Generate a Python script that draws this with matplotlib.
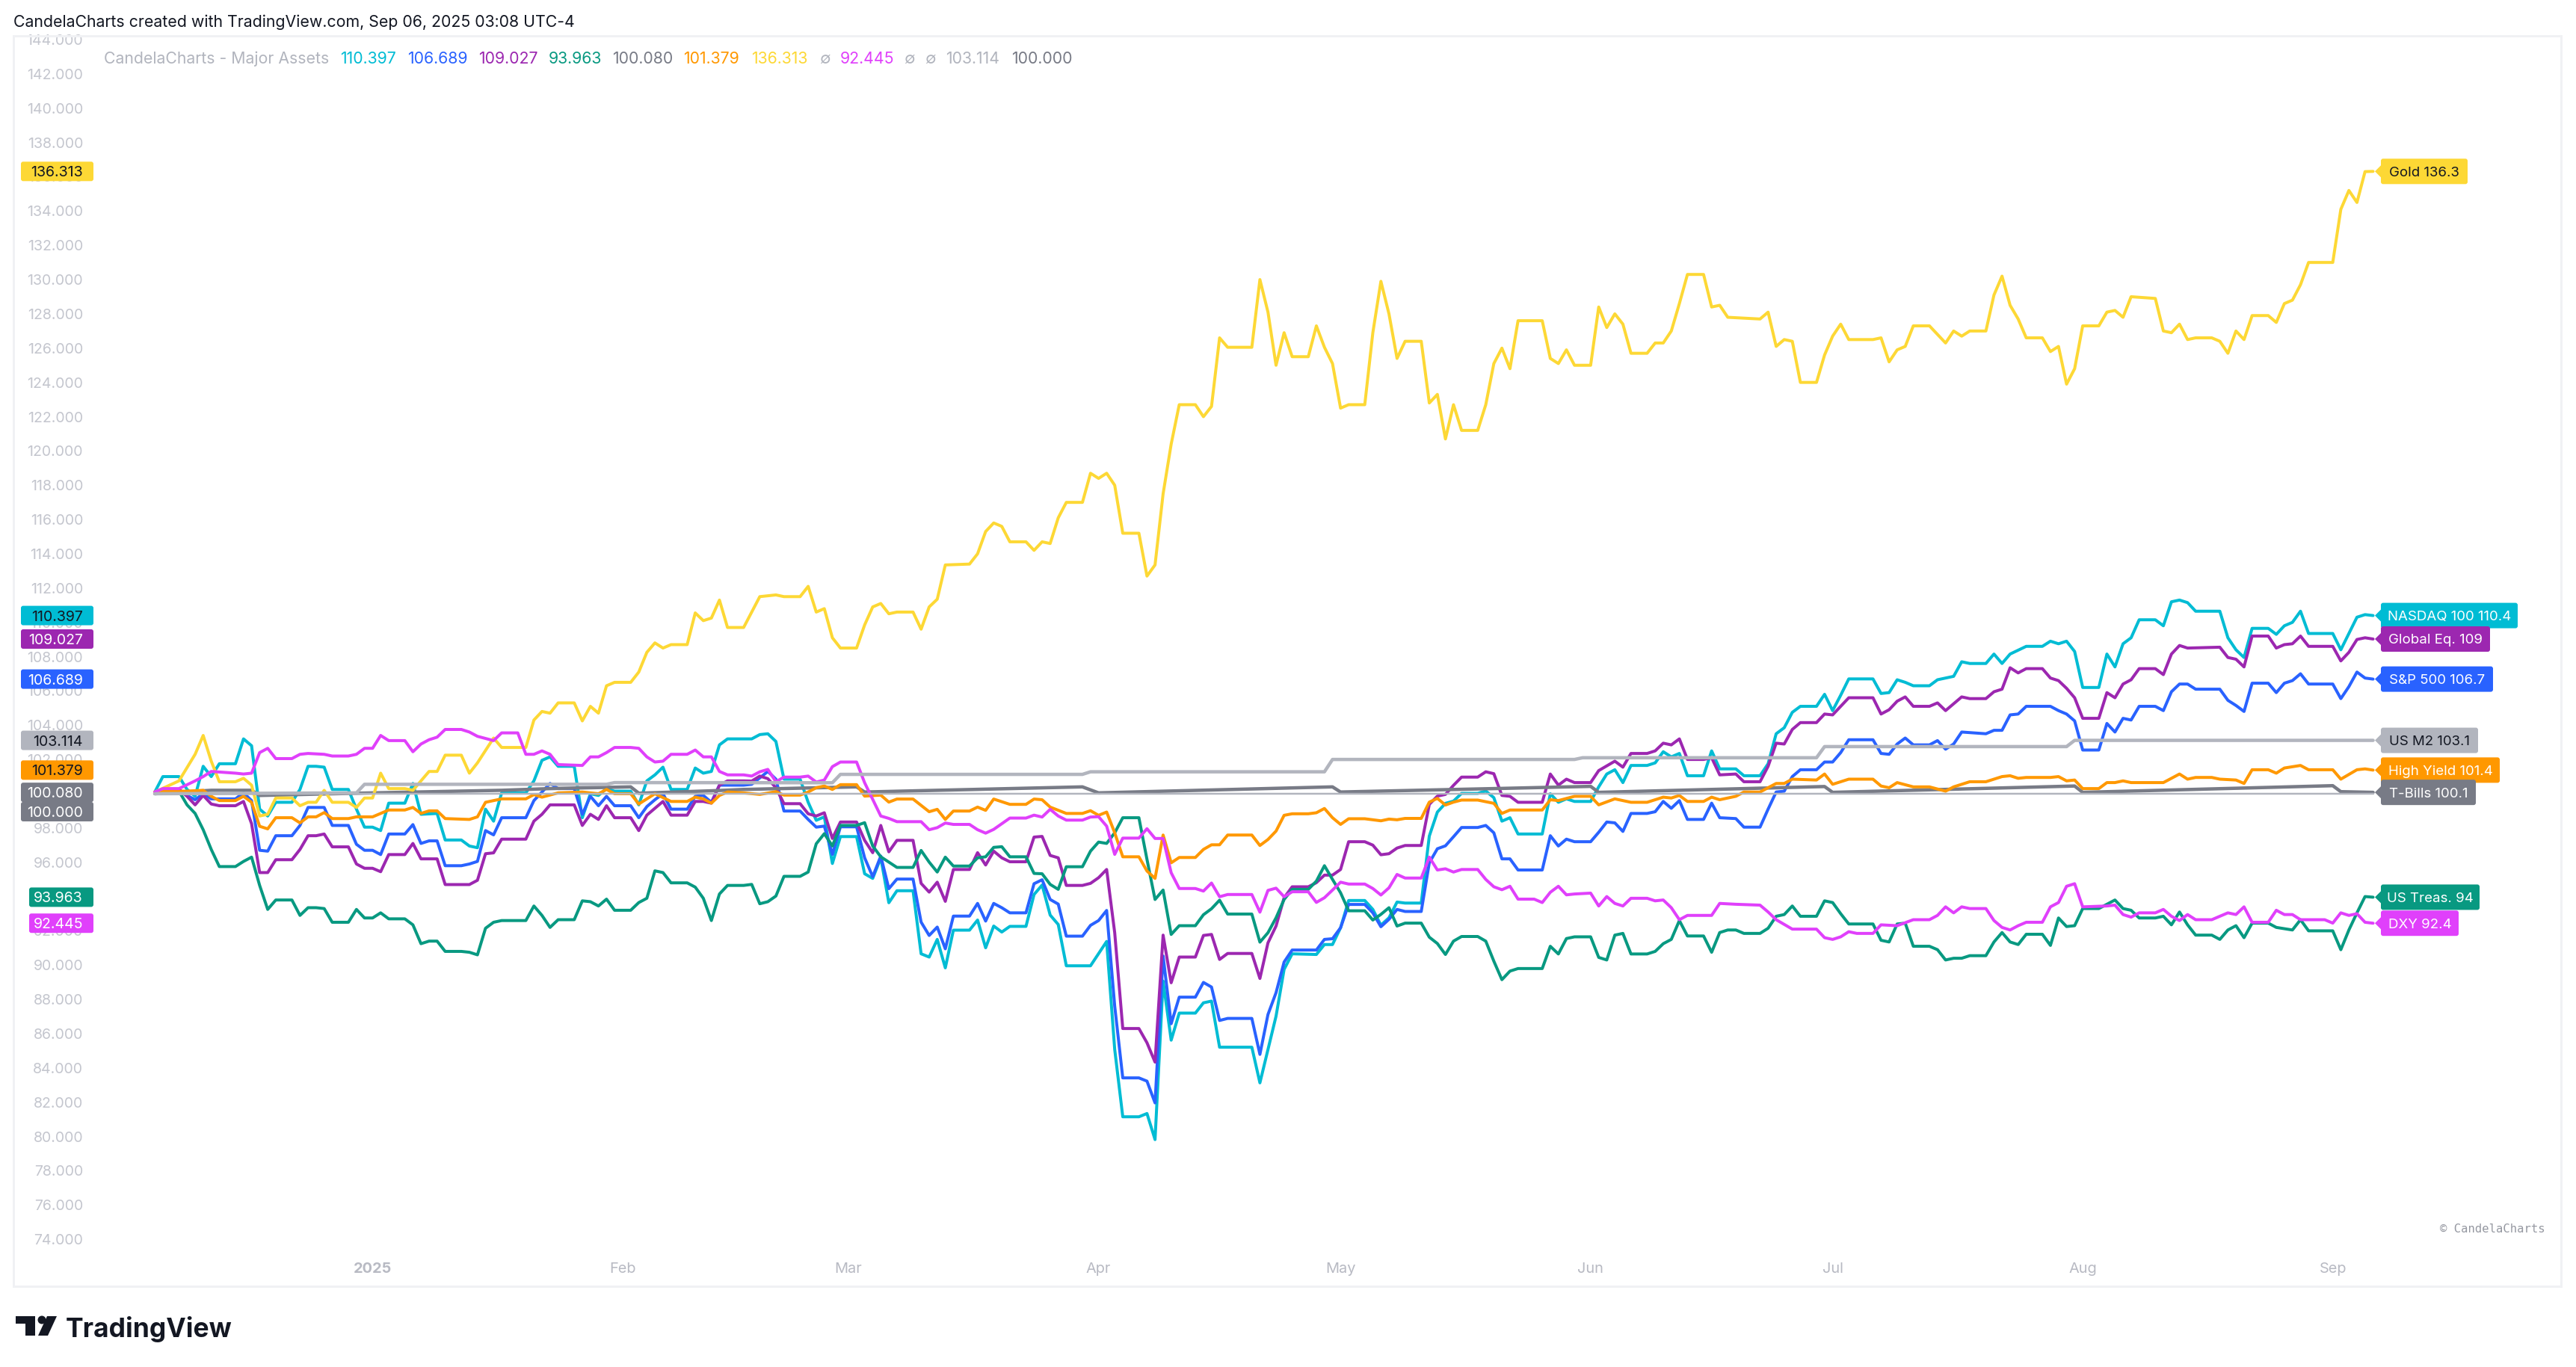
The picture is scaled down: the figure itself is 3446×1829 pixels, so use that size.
import matplotlib
matplotlib.use("Agg")
import matplotlib.pyplot as plt
from matplotlib.patches import FancyBboxPatch, Polygon, Circle

plt.rcParams['font.family'] = ['Inter', 'DejaVu Sans']

W, H = 3446, 1829

# (days since 2024-12-05, normalised value)
nasdaq = [(0,100.1),(1,101),(3,101),(4,100.25),(5,99.85),(6,101.6),(7,101),(8,101.75),(10,101.75),(11,103.2),(12,102.8),(13,99.1),(14,98.7),(15,99.5),(17,99.5),(18,100.25),(19,101.6),(20,101.6),(21,101.55),(22,100.25),(24,100.25),(25,99.1),(26,98.05),(27,98.05),(28,97.85),(29,99.45),(31,99.45),(32,100.6),(33,98.8),(35,98.85),(36,97.3),(38,97.3),(39,96.95),(40,96.85),(41,99.1),(42,98.4),(43,100.05),(46,100.05),(47,100.75),(48,101.95),(49,102.15),(50,101.6),(52,101.6),(53,98.6),(54,100),(55,99.9),(56,100.3),(57,100.15),(59,100.15),(60,99.35),(61,100.75),(62,101.1),(63,101.55),(64,100.25),(66,100.25),(67,101.5),(68,101.2),(69,101.3),(70,102.85),(71,103.2),(73,103.2),
 (74,103.2),(75,103.45),(76,103.5),(77,103.05),(78,100.85),(80,100.85),(81,99.5),(82,98.45),(83,98.65),(84,95.93),(85,97.5),(87,97.5),(88,95.33),(89,95.06),(90,96.26),(91,93.64),(92,94.34),(94,94.34),(95,90.66),(96,90.47),(97,91.5),(98,89.84),(99,92.04),(101,92.04),(102,92.63),(103,91.01),(104,92.28),(105,91.93),(106,92.26),(108,92.26),(109,94.12),(110,94.67),(111,92.92),(112,92.37),(113,89.96),(116,89.96),(118,91.38),(119,85.08),(120,81.15),(122,81.15),(123,81.34),(124,79.82),(125,89.07),(126,85.62),(127,87.2),(129,87.2),(130,87.8),(131,87.9),(132,85.21),(136,85.21),(137,83.13),(138,85.08),(139,87.02),(140,89.75),(141,90.66),(144,90.62),(145,91.2),(146,91.2),(147,92.18),(148,93.77),(150,93.77),(151,93.25),(152,92.33),(153,92.76),(154,93.68),(155,93.62),(157,93.62),(158,97.53),(159,98.93),(160,99.44),(161,99.57),(162,100.02),(164,100.02),(165,100.16),(166,99.77),
 (167,98.4),(168,98.6),(169,97.65),(172,97.65),(173,100),(174,99.5),(175,99.7),(176,99.55),(178,99.55),(179,100.4),(180,101.15),(181,101.4),(182,100.65),(183,101.65),(185,101.65),(186,101.8),(187,102.45),(188,102.15),(189,102.35),(190,101.05),(192,101.05),(193,102.5),(194,101.45),(196,101.45),(197,101.05),(199,101.05),(200,101.75),(201,103.5),(202,103.85),(203,104.75),(204,105.1),(206,105.1),(207,105.8),(208,104.85),(209,105.75),(210,106.7),(213,106.7),(214,105.85),(215,105.9),(216,106.65),(217,106.5),(218,106.3),(220,106.3),(221,106.65),(223,106.85),(224,107.7),(225,107.6),(227,107.6),(228,108.15),(229,107.6),(230,108.15),(232,108.6),(234,108.6),(235,108.9),(236,108.75),(237,108.9),(238,108.3),(239,106.2),(241,106.2),(242,108.15),(243,107.4),(244,108.75),(245,109.1),(246,110.15),(248,110.15),(249,109.8),(250,111.2),(251,111.3),(252,111.15),(253,110.65),(256,110.65),(257,109.1),(258,108.4),(259,107.95),(260,109.65),(262,109.65),(263,109.3),(264,109.8),(265,110),(266,110.65),(267,109.35),(270,109.35),(271,108.4),(272,109.35),(273,110.3),(274,110.45),(275,110.397)]

sp500 = [(0,100.1),(3,100.25),(4,99.9),(5,99.65),(6,100),(7,99.7),(10,99.7),(11,100.05),(12,99.6),(13,96.7),(14,96.65),(15,97.55),(17,97.55),(18,98.15),(19,99.2),(21,99.2),(22,98.15),(24,98.15),(25,97.05),(26,96.7),(27,96.7),(28,96.45),(29,97.65),(31,97.65),(32,98.2),(33,97.1),(34,97.25),(35,97.25),(36,95.8),(38,95.8),(39,95.9),(40,96.05),(41,97.85),(42,97.6),(43,98.6),(46,98.6),(47,99.6),(48,100.1),(49,100.6),(50,100.3),(52,100.3),(53,98.8),(54,99.85),(55,99.3),(56,99.85),(57,99.3),(59,99.3),(60,98.6),(61,99.25),(62,99.65),(63,100),(64,99.1),(66,99.1),(67,99.85),(68,99.9),(69,99.5),(70,100.5),(73,100.5),
 (74,100.55),(76,101.3),(77,100.85),(78,98.99),(80,98.99),(81,98.5),(82,98.05),(83,98.11),(84,96.46),(85,98.07),(87,98.07),(88,96.26),(89,95.16),(90,96.36),(91,94.46),(92,95.02),(94,95.02),(95,92.51),(96,91.73),(97,92.22),(98,90.95),(99,92.86),(101,92.86),(102,93.6),(103,92.57),(104,93.6),(105,93.35),(106,93.05),(108,93.05),(109,94.75),(110,94.98),(111,93.83),(112,93.56),(113,91.69),(115,91.69),(116,92.32),(117,92.6),(118,93.19),(119,87.61),(120,83.42),(122,83.42),(123,83.23),(124,81.96),(125,90.53),(126,86.58),(127,88.13),(129,88.13),(130,88.99),(131,88.72),(132,86.77),(133,86.89),(136,86.89),(137,84.79),(138,87.12),(139,88.39),(140,90.18),(141,90.88),(144,90.88),(145,91.5),(146,91.54),(147,92.18),(148,93.54),(150,93.54),(151,93.05),(152,92.24),(153,92.67),(154,93.25),(155,93.13),(157,93.13),(158,95.97),(159,96.79),(160,96.96),(161,97.49),(162,98.03),(164,98.03),(165,98.15),(166,97.72),
 (167,96.2),(168,96.2),(169,95.55),(172,95.55),(173,97.55),(174,96.95),(175,97.35),(176,97.2),(178,97.2),(179,97.75),(180,98.35),(181,98.3),(182,97.8),(183,98.85),(185,98.85),(186,98.95),(187,99.55),(188,99.15),(189,99.6),(190,98.5),(192,98.5),(193,99.45),(194,98.6),(196,98.55),(197,98.05),(199,98.05),(200,99.1),(201,100.1),(202,100.15),(203,101),(204,101.4),(206,101.4),(207,101.85),(208,101.85),(209,102.4),(210,103.15),(213,103.15),(214,102.35),(215,102.3),(216,102.9),(217,103.25),(218,102.85),(220,102.85),(221,103.1),(222,102.6),(223,102.9),(224,103.6),(227,103.5),(228,103.7),(229,103.7),(230,104.6),(231,104.65),(232,105.1),(235,105.1),(236,104.85),(237,104.65),(238,104.25),(239,102.55),(241,102.55),(242,104.1),(243,103.6),(244,104.4),(245,104.3),(246,105.1),(248,105.1),(249,104.85),(250,105.95),(251,106.4),(252,106.4),(253,106.1),(256,106.1),(257,105.45),(258,105.15),(259,104.8),(260,106.45),(262,106.45),(263,105.9),(264,106.45),(265,106.6),(266,107),(267,106.4),(270,106.4),(271,105.55),(272,106.25),(273,107.1),(274,106.75),(275,106.689)]

global_eq = [(0,100.1),(3,100.25),(4,99.85),(5,99.35),(6,99.9),(7,99.4),(8,99.3),(10,99.3),(11,99.55),(12,98.25),(13,95.4),(14,95.4),(15,96.15),(17,96.15),(18,96.75),(19,97.55),(20,97.55),(21,97.65),(22,96.9),(24,96.9),(25,95.9),(26,95.65),(27,95.65),(28,95.45),(29,96.45),(31,96.45),(32,97.1),(33,96.2),(35,96.2),(36,94.7),(39,94.7),(40,94.95),(41,96.5),(42,96.55),(43,97.35),(46,97.35),(47,98.4),(48,98.8),(49,99.35),(52,99.35),(53,98.15),(54,98.8),(55,98.5),(56,99.3),(57,98.6),(59,98.6),(60,97.85),(61,98.75),(62,99.15),(63,99.55),(64,98.75),(66,98.75),(67,99.55),(68,99.55),(69,99.45),(70,100.5),(71,100.75),(73,100.75),
 (74,100.74),(75,101.03),(76,100.88),(77,100.35),(78,99.42),(80,99.42),(81,98.83),(82,98.7),(83,98.89),(84,97.39),(85,98.35),(87,98.35),(88,97.28),(89,96.56),(90,98.15),(91,96.61),(92,97.28),(94,97.28),(95,94.77),(96,94.26),(97,94.84),(98,93.72),(99,95.58),(101,95.58),(102,96.56),(103,95.84),(104,96.65),(105,96.26),(106,96.03),(108,96.03),(109,97.47),(110,97.51),(111,96.4),(112,96.26),(113,94.65),(115,94.65),(116,94.77),(117,95.1),(118,95.58),(119,91.89),(120,86.3),(122,86.3),(123,85.47),(124,84.34),(125,91.75),(126,88.97),(127,90.47),(129,90.47),(130,91.73),(131,91.79),(132,90.33),(133,90.68),(136,90.68),(137,89.22),(138,91.3),(139,92.28),(140,93.93),(141,94.57),(143,94.57),(144,94.81),(145,95.25),(146,95.25),(147,95.58),(148,97.2),(150,97.2),(151,97),(152,96.44),(153,96.5),(154,96.83),(155,96.98),(157,96.98),(158,99.38),(159,99.86),(160,99.96),(161,100.49),(162,100.97),(164,100.97),(165,101.28),(166,101.17),
 (167,99.9),(168,99.85),(169,99.5),(172,99.5),(173,101.15),(174,100.5),(175,100.85),(176,100.65),(178,100.65),(179,101.35),(181,101.9),(182,101.55),(183,102.35),(185,102.35),(186,102.5),(187,102.95),(188,102.85),(189,103.2),(190,102),(192,102),(193,102.1),(194,101.1),(196,101.15),(197,100.7),(199,100.7),(200,101.6),(201,102.95),(202,102.9),(203,103.75),(204,104.15),(206,104.15),(207,104.65),(208,104.6),(209,105.1),(210,105.6),(213,105.6),(214,104.65),(215,104.9),(216,105.4),(217,105.65),(218,105.1),(220,105.1),(221,105.3),(222,104.85),(224,105.65),(225,105.55),(227,105.55),(228,105.95),(229,106.1),(230,107.35),(231,107.05),(232,107.3),(234,107.3),(235,106.75),(236,106.6),(237,106.15),(238,105.6),(239,104.4),(241,104.4),(242,105.9),(243,105.6),(244,106.4),(245,106.65),(246,107.3),(248,107.3),(249,106.95),(250,108.15),(251,108.65),(252,108.5),(256,108.55),(257,107.95),(258,107.85),(259,107.4),(260,109.2),(262,109.2),(263,108.5),(264,108.7),(265,108.75),(266,109.2),(267,108.6),(270,108.6),(271,107.75),(272,108.25),(273,109),(274,109.1),(275,109.027)]

us_treas = [(0,100.1),(3,100.15),(4,99.35),(5,98.85),(6,97.9),(7,96.75),(8,95.75),(10,95.75),(11,96.05),(12,96.3),(13,94.65),(14,93.25),(15,93.8),(17,93.8),(18,92.9),(19,93.35),(20,93.35),(21,93.3),(22,92.5),(24,92.5),(25,93.25),(26,92.75),(27,92.75),(28,93.05),(29,92.7),(31,92.7),(32,92.35),(33,91.25),(34,91.4),(35,91.4),(36,90.8),(38,90.8),(39,90.75),(40,90.6),(41,92.15),(42,92.5),(43,92.6),(46,92.6),(47,93.45),(48,92.9),(49,92.2),(50,92.65),(52,92.65),(53,93.75),(54,93.7),(55,93.45),(56,93.85),(57,93.2),(59,93.2),(60,93.65),(61,93.9),(62,95.5),(63,95.4),(64,94.8),(66,94.8),(67,94.55),(68,93.9),(69,92.6),(70,94.15),(71,94.65),(73,94.65),
 (74,94.71),(75,93.58),(76,93.7),(77,94.03),(78,95.18),(80,95.18),(81,95.43),(82,97.08),(83,97.67),(84,96.95),(85,98.15),(87,98.15),(88,98.31),(89,96.95),(90,96.32),(91,96.01),(92,95.7),(94,95.7),(95,96.69),(96,96.01),(97,95.43),(98,96.3),(99,95.78),(101,95.78),(102,96.26),(103,96.32),(104,96.87),(105,96.91),(106,96.32),(108,96.32),(109,95.35),(110,95.33),(111,94.71),(112,94.42),(113,95.74),(115,95.74),(116,96.65),(117,97.18),(118,97.1),(119,97.72),(120,98.6),(122,98.6),(123,96.17),(124,93.83),(125,94.38),(126,91.79),(127,92.3),(129,92.3),(130,92.94),(131,93.29),(132,93.79),(133,92.98),(136,92.98),(137,91.34),(138,91.89),(139,92.76),(140,93.83),(141,94.42),(143,94.42),(144,94.9),(145,95.8),(146,95),(147,94.22),(148,93.17),(150,93.17),(151,92.63),(152,92.96),(153,93.35),(154,92.28),(155,92.45),(157,92.45),(158,91.63),(159,91.26),(160,90.62),(161,91.4),(162,91.67),(164,91.67),(165,91.4),(166,90.23),
 (167,89.15),(168,89.65),(169,89.8),(172,89.8),(173,91.1),(174,90.65),(175,91.55),(176,91.65),(178,91.65),(179,90.45),(180,90.3),(181,91.75),(182,91.85),(183,90.65),(185,90.65),(186,90.8),(187,91.25),(188,91.5),(189,92.6),(190,91.7),(192,91.7),(193,90.75),(194,91.9),(195,92.05),(196,92.05),(197,91.85),(199,91.85),(200,92.15),(201,92.85),(202,92.95),(203,93.45),(204,92.85),(206,92.85),(207,93.75),(208,93.65),(209,93),(210,92.4),(213,92.4),(214,91.45),(215,91.35),(216,92.4),(217,92.45),(218,91.1),(220,91.1),(221,90.9),(222,90.3),(223,90.4),(224,90.4),(225,90.55),(227,90.55),(228,91.35),(229,91.9),(230,91.35),(231,91.2),(232,91.8),(234,91.8),(235,91.15),(236,92.75),(237,92.25),(238,92.3),(239,93.3),(241,93.3),(243,93.8),(244,93.3),(245,93.2),(246,92.75),(248,92.75),(249,92.85),(250,92.35),(251,93.1),(252,92.35),(253,91.75),(255,91.75),(256,91.5),(257,92.05),(258,92.3),(259,91.6),(260,92.45),(262,92.45),(263,92.2),(265,92.05),(266,92.65),(267,92),(270,92),(271,90.9),(272,92.05),(273,93.05),(274,94),(275,93.963)]

t_bills = [(0,100),(7,100.2),(12,100.2),(13,99.9),(25,100.03),(43,100.2),(49,100.3),(59,100.4),(60,100.03),(69,100.17),(73,100.25),(87,100.4),(88,100.1),(115,100.4),(117,100.05),(146,100.4),(147,100.1),(166,100.3),(178,100.43),(179,100.08),(207,100.42),(208,100.08),(238,100.45),(239,100.08),(270,100.47),(271,100.12),(275,100.08)]

high_yield = [(0,100.1),(1,100.15),(4,100.15),(6,100.2),(7,99.85),(8,99.6),(10,99.6),(11,99.85),(12,99.5),(13,98.1),(14,97.95),(15,98.6),(17,98.6),(18,98.3),(19,98.65),(20,98.65),(21,98.9),(22,98.55),(24,98.55),(25,98.65),(27,98.65),(29,99.05),(31,99.05),(32,99.2),(33,98.85),(34,99),(35,99),(36,98.55),(39,98.5),(40,98.65),(41,99.5),(43,99.7),(46,99.7),(47,99.95),(48,99.8),(50,100.05),(53,100.1),(55,100),(56,100.25),(57,100),(59,100),(60,99.4),(62,100),(64,99.55),(66,99.55),(67,99.8),(68,99.7),(69,99.45),(70,99.9),(71,100.1),(73,100.05),
 (75,99.96),(77,100.12),(78,99.92),(80,99.92),(81,100.1),(82,100.35),(83,100.45),(84,100.25),(85,100.53),(87,100.53),(88,99.86),(90,99.92),(91,99.51),(92,99.69),(94,99.69),(96,98.95),(97,99.09),(98,98.5),(99,98.99),(101,98.99),(102,99.22),(103,99.03),(104,99.69),(106,99.38),(108,99.38),(109,99.69),(110,99.65),(111,99.22),(113,98.85),(115,98.85),(116,99.01),(117,98.74),(118,98.93),(119,97.72),(120,96.32),(122,96.32),(123,95.49),(124,95.06),(125,97.59),(126,95.97),(127,96.28),(129,96.28),(130,96.75),(131,97.02),(132,97.02),(133,97.59),(136,97.59),(137,96.98),(138,97.33),(139,97.82),(140,98.74),(141,98.83),(143,98.83),(144,98.89),(145,99.14),(146,98.6),(147,98.21),(148,98.54),(150,98.54),(152,98.42),(153,98.52),(154,98.48),(155,98.56),(157,98.56),(158,99.51),(159,99.73),(160,99.34),(161,99.51),(162,99.63),(164,99.63),(166,99.44),
 (167,98.85),(168,99.05),(172,99.05),(173,99.65),(174,99.6),(176,99.85),(178,99.85),(179,99.35),(181,99.7),(183,99.5),(185,99.5),(187,99.8),(188,99.75),(189,99.9),(190,99.55),(192,99.55),(193,99.8),(194,99.65),(196,99.85),(197,100.1),(199,100.1),(201,100.6),(202,100.6),(203,100.85),(206,100.8),(207,101.15),(208,100.55),(210,100.85),(213,100.85),(214,100.45),(215,100.35),(216,100.65),(218,100.4),(220,100.4),(222,100.15),(223,100.4),(225,100.7),(227,100.7),(229,101),(230,101.05),(231,100.9),(232,100.95),(235,100.95),(236,101),(237,100.75),(238,100.8),(239,100.3),(241,100.3),(242,100.65),(243,100.65),(244,100.75),(245,100.65),(249,100.65),(251,101.15),(252,100.85),(253,100.95),(255,100.95),(256,100.85),(258,100.8),(259,100.6),(260,101.4),(262,101.4),(263,101.2),(264,101.5),(266,101.65),(267,101.4),(270,101.4),(271,100.85),(273,101.4),(274,101.45),(275,101.379)]

gold = [(0,100.1),(3,100.75),(5,102.3),(6,103.4),(7,101.9),(8,100.7),(10,100.7),(11,100.9),(12,100.5),(13,98.7),(14,98.8),(15,99.75),(17,99.75),(18,99.3),(19,99.5),(20,99.5),(21,100.2),(22,99.5),(24,99.5),(25,99.2),(26,99.75),(27,99.75),(28,101.2),(29,100.3),(31,100.3),(32,100.2),(33,100.75),(34,101.3),(35,101.3),(36,102.25),(38,102.25),(39,101.2),(40,101.8),(42,103.25),(43,102.7),(46,102.7),(47,104.3),(48,104.8),(49,104.7),(50,105.3),(52,105.3),(53,104.25),(54,105.1),(55,104.7),(56,106.3),(57,106.5),(59,106.5),(60,107.1),(61,108.25),(62,108.8),(63,108.5),(64,108.7),(66,108.7),(67,110.55),(68,110.1),(69,110.25),(70,111.3),(71,109.7),(73,109.7),
 (75,111.5),(77,111.6),(78,111.5),(80,111.5),(81,112.1),(82,110.6),(83,110.8),(84,109.1),(85,108.5),(87,108.5),(88,109.85),(89,110.9),(90,111.1),(91,110.5),(92,110.6),(94,110.6),(95,109.6),(96,110.9),(97,111.35),(98,113.35),(101,113.4),(102,114),(103,115.3),(104,115.8),(105,115.6),(106,114.7),(108,114.7),(109,114.2),(110,114.7),(111,114.6),(112,116.1),(113,117),(115,117),(116,118.7),(117,118.4),(118,118.7),(119,118),(120,115.2),(122,115.2),(123,112.7),(124,113.35),(125,117.5),(126,120.4),(127,122.7),(129,122.7),(130,122),(131,122.6),(132,126.6),(133,126.05),(136,126.05),(137,130),(138,128.1),(139,125),(140,126.9),(141,125.5),(143,125.5),(144,127.3),(145,126.05),(146,125.1),(147,122.5),(148,122.7),(150,122.7),(151,126.9),(152,129.9),(153,128),(154,125.4),(155,126.4),(157,126.4),(158,122.8),(159,123.3),(160,120.7),(161,122.7),(162,121.2),(164,121.2),(165,122.7),(166,125.1),
 (167,126),(168,124.8),(169,127.6),(172,127.6),(173,125.4),(174,125.1),(175,125.9),(176,125),(178,125),(179,128.4),(180,127.2),(181,128),(182,127.4),(183,125.7),(185,125.7),(186,126.3),(187,126.3),(188,127),(189,128.6),(190,130.3),(192,130.3),(193,128.4),(194,128.5),(195,127.8),(199,127.7),(200,128.1),(201,126.1),(202,126.5),(203,126.4),(204,124),(206,124),(207,125.6),(208,126.7),(209,127.4),(210,126.5),(213,126.5),(214,126.6),(215,125.2),(216,125.9),(217,126.1),(218,127.3),(220,127.3),(221,126.8),(222,126.3),(223,127),(224,126.7),(225,127),(227,127),(228,129.1),(229,130.2),(230,128.5),(231,127.7),(232,126.6),(234,126.6),(235,125.8),(236,126.1),(237,123.9),(238,124.8),(239,127.3),(241,127.3),(242,128.1),(243,128.2),(244,127.8),(245,129),(248,128.9),(249,127),(250,126.9),(251,127.4),(252,126.5),(253,126.6),(255,126.6),(256,126.4),(257,125.7),(258,127),(259,126.5),(260,127.9),(262,127.9),(263,127.5),(264,128.6),(265,128.8),(266,129.7),(267,131),(270,131),(271,134.1),(272,135.2),(273,134.5),(274,136.3),(275,136.313)]

dxy = [(0,100.1),(1,100.3),(3,100.3),(5,100.75),(6,101),(7,101.3),(10,101.2),(11,101.15),(12,101.2),(13,102.4),(14,102.65),(15,102.05),(17,102.05),(18,102.3),(19,102.35),(21,102.3),(22,102.2),(24,102.2),(25,102.3),(26,102.65),(27,102.65),(28,103.4),(29,103.1),(31,103.1),(32,102.45),(33,102.9),(34,103.15),(35,103.3),(36,103.75),(38,103.75),(39,103.6),(40,103.35),(42,103.1),(43,103.55),(45,103.55),(46,102.3),(47,102.3),(48,102.5),(49,102.3),(50,101.7),(53,101.65),(54,102.15),(55,102.15),(56,102.4),(57,102.7),(59,102.7),(60,102.65),(61,102.15),(62,101.85),(63,101.9),(64,102.3),(66,102.3),(67,102.55),(68,102.15),(69,102.15),(70,101.3),(71,101.1),(73,101.1),
 (74,101.03),(75,101.28),(76,101.42),(77,100.7),(78,100.97),(80,100.97),(81,101.03),(82,100.68),(83,100.8),(84,101.58),(85,101.85),(87,101.85),(88,100.64),(89,99.67),(90,98.7),(91,98.56),(92,98.37),(95,98.37),(96,97.9),(97,98.02),(98,98.29),(99,98.21),(101,98.21),(102,97.9),(103,97.7),(104,97.92),(106,98.58),(108,98.58),(109,98.75),(110,98.64),(111,99.09),(112,98.7),(113,98.46),(115,98.46),(116,98.64),(117,98.66),(118,98.11),(119,96.46),(120,97.41),(122,97.41),(123,97.96),(124,97.39),(125,97.39),(126,95.39),(127,94.47),(129,94.47),(130,94.32),(131,94.79),(132,93.99),(133,94.12),(136,94.12),(137,93.09),(138,94.36),(139,94.49),(140,93.99),(141,94.28),(143,94.28),(144,93.66),(145,93.93),(146,94.38),(147,94.84),(148,94.73),(150,94.73),(151,94.47),(152,94.09),(153,94.51),(154,95.29),(155,95.08),(157,95.08),(158,96.3),(159,95.55),(160,95.62),(161,95.43),(162,95.58),(164,95.58),(165,95),(166,94.57),
 (167,94.4),(168,94.6),(169,93.85),(171,93.85),(172,93.65),(173,94.25),(174,94.6),(175,94.1),(176,94.15),(178,94.2),(179,93.45),(180,94),(181,93.6),(182,93.45),(183,93.9),(185,93.9),(186,93.75),(187,93.8),(188,93.35),(189,92.65),(190,92.9),(193,92.9),(194,93.6),(196,93.55),(199,93.5),(200,93.1),(201,92.65),(203,92.1),(206,92.1),(207,91.6),(208,91.5),(209,91.65),(210,91.95),(211,91.85),(213,91.85),(214,92.35),(216,92.3),(218,92.65),(220,92.65),(221,92.9),(222,93.4),(223,93.05),(224,93.4),(225,93.3),(227,93.3),(228,92.6),(229,92.2),(230,92.05),(231,92.3),(232,92.5),(234,92.5),(235,93.4),(236,93.65),(237,94.6),(238,94.75),(239,93.4),(242,93.45),(243,93.5),(244,92.95),(245,92.8),(246,93.05),(248,93.05),(249,93.25),(250,92.85),(251,92.6),(252,92.95),(253,92.65),(255,92.65),(257,93.05),(258,92.95),(259,93.4),(260,92.5),(262,92.5),(263,93.2),(264,92.95),(265,92.95),(266,92.65),(269,92.65),(270,92.45),(271,93.05),(272,92.9),(273,93),(274,92.5),(275,92.445)]

us_m2 = [(0,100),(25,100.05),(26,100.55),(56,100.55),(57,100.65),(84,100.64),(85,101.13),(115,101.13),(116,101.28),(145,101.28),(146,102),(176,102),(177,102.1),(206,102.1),(207,102.75),(237,102.75),(238,103.114),(275,103.114)]
baseline = [(0,100),(275,100)]

month_days = [27, 58, 86, 117, 147, 178, 208, 239, 270]
month_labels = ['2025', 'Feb', 'Mar', 'Apr', 'May', 'Jun', 'Jul', 'Aug', 'Sep']
price_ticks = list(range(74, 146, 2))

C_NDX, C_SPX, C_GEQ, C_TRE = '#00BCD4', '#2962FF', '#9C27B0', '#089981'
C_BIL, C_HY, C_GLD, C_DXY, C_M2 = '#787B86', '#FF9800', '#FDD835', '#E040FB', '#B2B5BE'

PX = 72 / 200
fig = plt.figure(figsize=(W / 200, H / 200), dpi=200, facecolor='white')
AX_L, AX_R, AX_T, AX_B = 18, 3426, 48, 1721
ax = fig.add_axes([AX_L / W, 1 - AX_B / H, (AX_R - AX_L) / W, (AX_B - AX_T) / H])
ax.set_xlim(-17.52, 298.3)
ax.set_ylim(71.26, 144.22)
for s in ax.spines.values():
    s.set_color('#F0F1F4')
    s.set_linewidth(3 * PX)

for data, col, lw in [(nasdaq, C_NDX, 4), (sp500, C_SPX, 4), (global_eq, C_GEQ, 4), (us_treas, C_TRE, 4),
                      (t_bills, C_BIL, 4.5), (high_yield, C_HY, 4), (gold, C_GLD, 4), (dxy, C_DXY, 4),
                      (us_m2, C_M2, 4.5), (baseline, C_M2, 2.5)]:
    xs, ys = zip(*data)
    ax.plot(xs, ys, color=col, lw=lw * PX, solid_joinstyle='round', solid_capstyle='round')

ax.set_yticks(price_ticks)
ax.set_yticklabels([f'{v:.3f}' for v in price_ticks], color='#C4C6CE', fontsize=19.5 * PX)
ax.tick_params(axis='y', length=0, pad=-93 * PX)
ax.set_xticks(month_days)
ax.set_xticklabels(month_labels, color='#B8BAC3', fontsize=20 * PX)
ax.tick_params(axis='x', length=0, pad=-23 * PX)
for t in ax.get_xticklabels():
    t.set_va('center')
ax.get_xticklabels()[0].set_fontweight('bold')

# overlay for labels, in pixels
ch = fig.add_axes([0, 0, 1, 1])
ch.set_xlim(0, W)
ch.set_ylim(H, 0)
ch.axis('off')
ch.patch.set_alpha(0)


def py(v):
    return H - ax.transData.transform((0, v))[1]


def box(x0, x1, cy, h, col):
    ch.add_patch(FancyBboxPatch((x0 + 3, cy - h / 2 + 3), x1 - x0 - 6, h - 6,
                                boxstyle='round,pad=3,rounding_size=3', fc=col, ec='none'))


for val, col, tc, x0, shift in [(136.313, C_GLD, '#131722', 28, 0), (110.397, C_NDX, '#131722', 28, 0),
                                (109.027, C_GEQ, 'white', 28, 0), (106.689, C_SPX, 'white', 28, 0),
                                (103.114, C_M2, '#131722', 28, 0), (101.379, C_HY, '#131722', 28, 0),
                                (100.000, C_BIL, 'white', 28, 24), (100.080, C_BIL, 'white', 28, 0),
                                (93.963, C_TRE, 'white', 39, 0), (92.445, C_DXY, 'white', 39, 0)]:
    cy = py(val) + shift
    box(x0, 125, cy, 26, col)
    ch.text(111, cy, f'{val:.3f}', ha='right', va='center_baseline', color=tc, fontsize=19.5 * PX)

for name, val, col, tc, x1 in [('Gold 136.3', 136.313, C_GLD, '#131722', 3301),
                               ('NASDAQ 100 110.4', 110.397, C_NDX, 'white', 3368),
                               ('Global Eq. 109', 109.027, C_GEQ, 'white', 3331),
                               ('S&P 500 106.7', 106.689, C_SPX, 'white', 3335),
                               ('US M2 103.1', 103.114, C_M2, '#131722', 3315),
                               ('High Yield 101.4', 101.379, C_HY, 'white', 3344),
                               ('T-Bills 100.1', 100.080, C_BIL, 'white', 3312),
                               ('US Treas. 94', 93.963, C_TRE, 'white', 3317),
                               ('DXY 92.4', 92.445, C_DXY, 'white', 3289)]:
    cy = py(val)
    box(3185, x1, cy, 34, col)
    ch.add_patch(Polygon([(3177, cy), (3187, cy - 10), (3187, cy + 10)], fc=col, ec='none'))
    ch.text((3185 + x1) / 2, cy, name, ha='center', va='center_baseline', color=tc, fontsize=18.7 * PX)

ch.text(18, 28, 'CandelaCharts created with TradingView.com, Sep 06, 2025 03:08 UTC-4',
        ha='left', va='center_baseline', color='#131722', fontsize=21.35 * PX)

for x, s, col in [(139, 'CandelaCharts - Major Assets', C_M2), (455, '110.397', C_NDX), (545, '106.689', C_SPX),
                  (640, '109.027', C_GEQ), (734, '93.963', C_TRE), (819, '100.080', C_BIL), (914, '101.379', C_HY),
                  (1005, '136.313', C_GLD), (1097, '∅', C_M2), (1124, '92.445', C_DXY), (1210, '∅', C_M2),
                  (1238, '∅', C_M2), (1265, '103.114', C_M2), (1353, '100.000', C_BIL)]:
    ch.text(x, 77, s, ha='left', va='center_baseline', color=col, fontsize=21.3 * PX)

ch.text(3405, 1643, '© CandelaCharts', ha='right', va='center_baseline', color='#9598A1',
        fontsize=15.5 * PX, family='DejaVu Sans Mono')

# TradingView logo
k = '#131722'
ch.add_patch(Polygon([(21, 1761), (47, 1761), (47, 1787), (34, 1787), (34, 1771), (21, 1771)], fc=k, ec='none'))
ch.add_patch(Circle((56, 1766), 5.5, fc=k, ec='none'))
ch.add_patch(Polygon([(63, 1761), (76, 1761), (64, 1787), (51, 1787)], fc=k, ec='none'))
ch.text(88, 1775, 'TradingView', ha='left', va='center_baseline', color=k, fontsize=35.5 * PX, fontweight='bold')

fig.savefig('out.png', dpi=200)
